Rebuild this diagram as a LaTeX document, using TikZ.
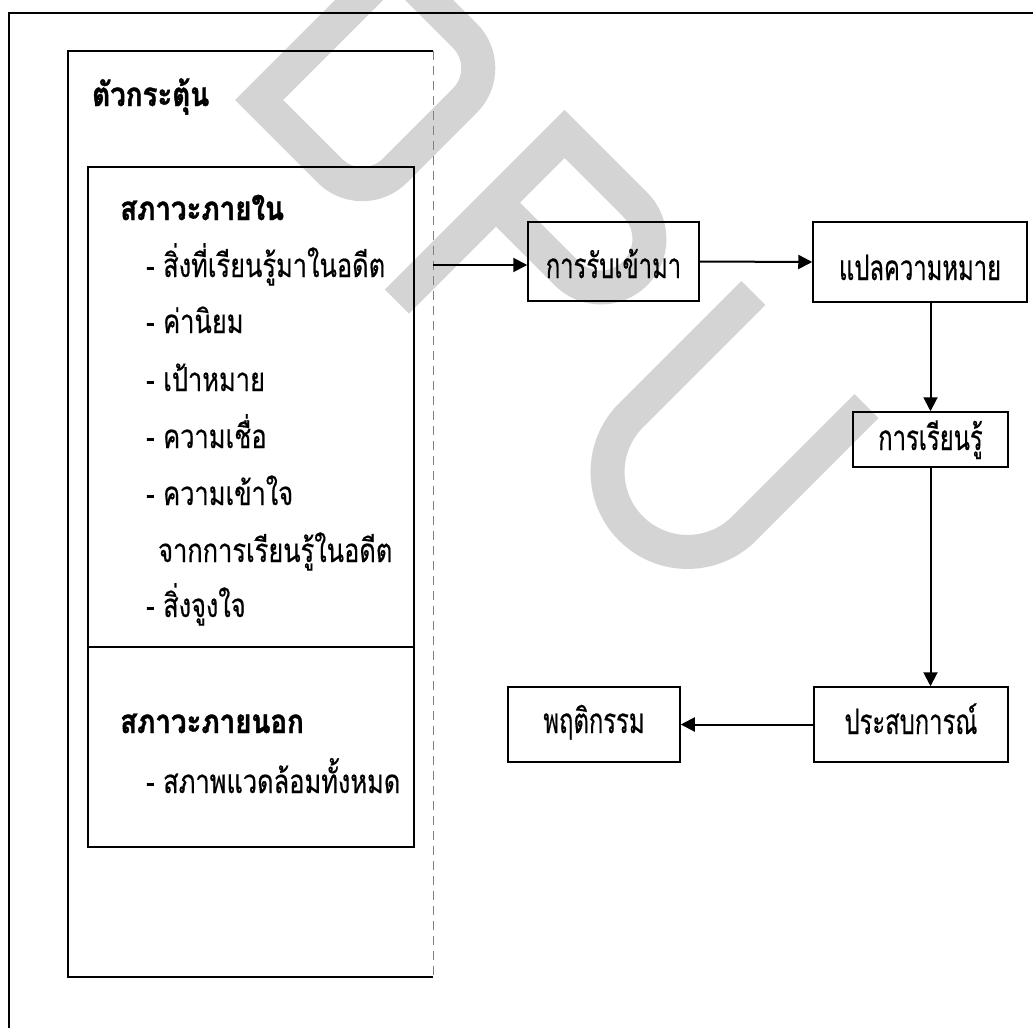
\documentclass[tikz,border=0pt]{standalone}
\usepackage{fontspec}
\newfontfamily\thaifont[Script=Thai,FakeStretch=0.77,FakeBold=0.4]{Loma}
\newfontfamily\thaihdr[Script=Thai,FakeStretch=0.84,FakeBold=1.2]{Loma}
\newfontfamily\thaibox[Script=Thai,FakeStretch=0.68,FakeBold=0.4]{Loma}
\usetikzlibrary{arrows.meta}
\definecolor{wm}{RGB}{212,212,212}
\begin{document}
\begin{tikzpicture}[x=1pt,y=-1pt,
  txt/.style={anchor=base west, inner sep=0pt, font=\thaifont\fontsize{33}{38}\selectfont},
  hdr/.style={anchor=base west, inner sep=0pt, font=\thaihdr\bfseries\fontsize{33}{38}\selectfont},
  rbox/.style={draw, line width=1.5pt, inner sep=0pt, font=\thaibox\fontsize{35}{40}\selectfont},
  frameline/.style={line width=1.6pt},
  conn/.style={line width=2pt, -{Triangle[length=14pt,width=14pt]}},
  wmstroke/.style={draw=wm, line width=34pt, line join=miter}
]
\useasboundingbox (0,0) rectangle (1033,1028);
\fill[white] (0,0) rectangle (1033,1028);

% watermark
\begin{scope}[shift={(235,100)}, rotate=-45, x=1pt, y=1pt]
  \path[wmstroke] (17,17) -- (17,208) -- (117,208) arc[start angle=90,end angle=0,radius=46] -- (163,63) arc[start angle=0,end angle=-90,radius=46] -- cycle;
  \path[wmstroke] (257,-28) -- (257,209) -- (357,209) arc[start angle=90,end angle=-90,radius=48.5] -- (257,112);
  \path[wmstroke] (503,230) -- (503,57) arc[start angle=180,end angle=360,radius=80] -- (663,230);
\end{scope}

% page frame
\draw[frameline] (9,1028) -- (9,13) -- (1033,13);

% stimulus column
\draw[frameline] (433,51) -- (68,51) -- (68,977) -- (433,977);
\draw[gray, line width=0.7pt, dash pattern=on 9pt off 6pt] (433,51) -- (433,977);
\draw[frameline] (88,167) rectangle (414,647);
\draw[frameline] (88,647) rectangle (414,847);

\node[hdr] (stim) at (92,106) {ตัวกระตุ้น};
\node[hdr] (inner) at (120,220) {สภาวะภายใน};
\node[txt] (i1) at (146,277) {- สิ่งที่เรียนรู้มาในอดีต};
\node[txt] (i2) at (146,333) {- ค่านิยม};
\node[txt] (i3) at (146,391) {- เป้าหมาย};
\node[txt] (i4) at (146,448) {- ความเชื่อ};
\node[txt] (i5) at (146,505) {- ความเข้าใจ};
\node[txt] (i5b) at (158,562) {จากการเรียนรู้ในอดีต};
\node[txt] (i6) at (146,617) {- สิ่งจูงใจ};
\node[hdr] (outer) at (120,733) {สภาวะภายนอก};
\node[txt] (o1) at (146,793) {- สภาพแวดล้อมทั้งหมด};

% process boxes
\node[rbox, minimum width=171pt, text height=56pt, text depth=23pt] (recv) at (613.5,261.5) {การรับเข้ามา};
\node[rbox, minimum width=214pt, text height=58pt, text depth=22pt] (interp) at (920,262) {แปลความหมาย};
\node[rbox, minimum width=155pt, text height=38pt, text depth=17pt] (learn) at (930.5,439.5) {การเรียนรู้};
\node[rbox, minimum width=194pt, text height=47pt, text depth=28pt] (exper) at (911,724.5) {ประสบการณ์};
\node[rbox, minimum width=172pt, text height=46pt, text depth=29pt] (behav) at (594,724.5) {พฤติกรรม};

\coordinate (src) at (433,265);
\draw[conn] (src) -- (src -| recv.west);
\draw[conn] (recv.east) -- (interp.west);
\draw[conn] (learn.north |- interp.south) -- (learn.north);
\draw[conn] (learn.south) -- (learn.south |- exper.north);
\draw[conn] (exper.west) -- (behav.east);
\end{tikzpicture}
\end{document}
